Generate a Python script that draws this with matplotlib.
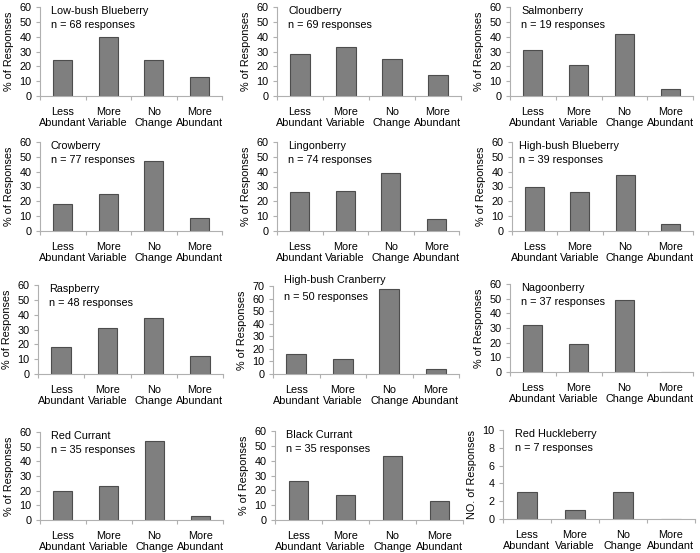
import matplotlib
matplotlib.use('Agg')
import matplotlib.pyplot as plt

plt.rcParams['font.family'] = ['Liberation Sans', 'DejaVu Sans']

categories = ['Less\nAbundant', 'More\nVariable', 'No\nChange', 'More\nAbundant']

species = ['Low-bush Blueberry', 'Cloudberry', 'Salmonberry',
           'Crowberry', 'Lingonberry', 'High-bush Blueberry',
           'Raspberry', 'High-bush Cranberry', 'Nagoonberry',
           'Red Currant', 'Black Currant', 'Red Huckleberry']
n_responses = [68, 69, 19, 77, 74, 39, 48, 50, 37, 35, 35, 7]

low_bush_blueberry = [24, 40, 24, 13]
cloudberry = [28, 33, 25, 14]
salmonberry = [31, 21, 42, 5]
crowberry = [18, 25, 47, 9]
lingonberry = [26, 27, 39, 8]
high_bush_blueberry = [30, 26, 38, 5]
raspberry = [18, 31, 38, 12]
high_bush_cranberry = [16, 12, 68, 4]
nagoonberry = [32, 19, 49, 0]
red_currant = [20, 23, 54, 3]
black_currant = [26, 17, 43, 13]
red_huckleberry = [3, 1, 3, 0]

values = [low_bush_blueberry, cloudberry, salmonberry,
          crowberry, lingonberry, high_bush_blueberry,
          raspberry, high_bush_cranberry, nagoonberry,
          red_currant, black_currant, red_huckleberry]

W, H = 700, 553
fig = plt.figure(figsize=(W / 100, H / 100), dpi=100)

# axes boxes in pixels: (left, right, top, bottom)
boxes = [(40, 222, 7, 96), (277, 461, 7, 96), (510, 693, 7, 96),
         (40, 222, 142, 231), (277, 459, 142, 231), (512, 693, 142, 231),
         (38, 223, 285, 374), (273, 459, 286, 374), (510, 693, 284, 372),
         (40, 223, 432, 520), (275, 463, 431, 520), (503, 695, 430, 519)]

fs = 7.8
spine_col = '#b0b0b0'
for i, (name, n, vals) in enumerate(zip(species, n_responses, values)):
    l, r, t, b = boxes[i]
    ax = fig.add_axes([l / W, 1 - b / H, (r - l) / W, (b - t) / H])
    x = range(len(categories))
    ax.bar(x, vals, width=0.42, color='#7f7f7f', edgecolor='#4d4d4d',
           linewidth=0.8)
    ax.set_xlim(-0.5, 3.5)
    if name == 'High-bush Cranberry':
        ax.set_ylim(0, 70)
        ax.set_yticks(range(0, 71, 10))
    elif name == 'Red Huckleberry':
        ax.set_ylim(0, 10)
        ax.set_yticks(range(0, 11, 2))
    else:
        ax.set_ylim(0, 60)
        ax.set_yticks(range(0, 61, 10))
    ax.set_xticks([-0.5, 0.5, 1.5, 2.5, 3.5])
    ax.set_xticklabels([])
    ax.set_xticks(list(x), minor=True)
    ax.set_xticklabels(categories, minor=True, fontsize=fs, linespacing=1.05)
    ax.tick_params(axis='x', which='minor', length=0, pad=8)
    ax.tick_params(axis='x', which='major', length=3, color=spine_col)
    ax.tick_params(axis='y', length=3, color=spine_col, labelsize=fs, pad=3)
    for s in ['top', 'right']:
        ax.spines[s].set_visible(False)
    for s in ['left', 'bottom']:
        ax.spines[s].set_color(spine_col)
        ax.spines[s].set_linewidth(0.8)
    ylab = 'NO. of Responses' if name == 'Red Huckleberry' else '% of Responses'
    ax.set_ylabel(ylab, fontsize=fs, labelpad=4)

    if name == 'High-bush Cranberry':
        ty, ny = 1.07, 0.87
    else:
        ty, ny = 0.955, 0.80
    tx = 0.04 if name == 'High-bush Blueberry' else 0.06
    ax.text(tx, ty, name, transform=ax.transAxes, fontsize=fs,
            va='center', ha='left')
    ax.text(tx, ny, f'n = {n} responses', transform=ax.transAxes,
            fontsize=fs, va='center', ha='left')

fig.savefig('out.png', dpi=100)
